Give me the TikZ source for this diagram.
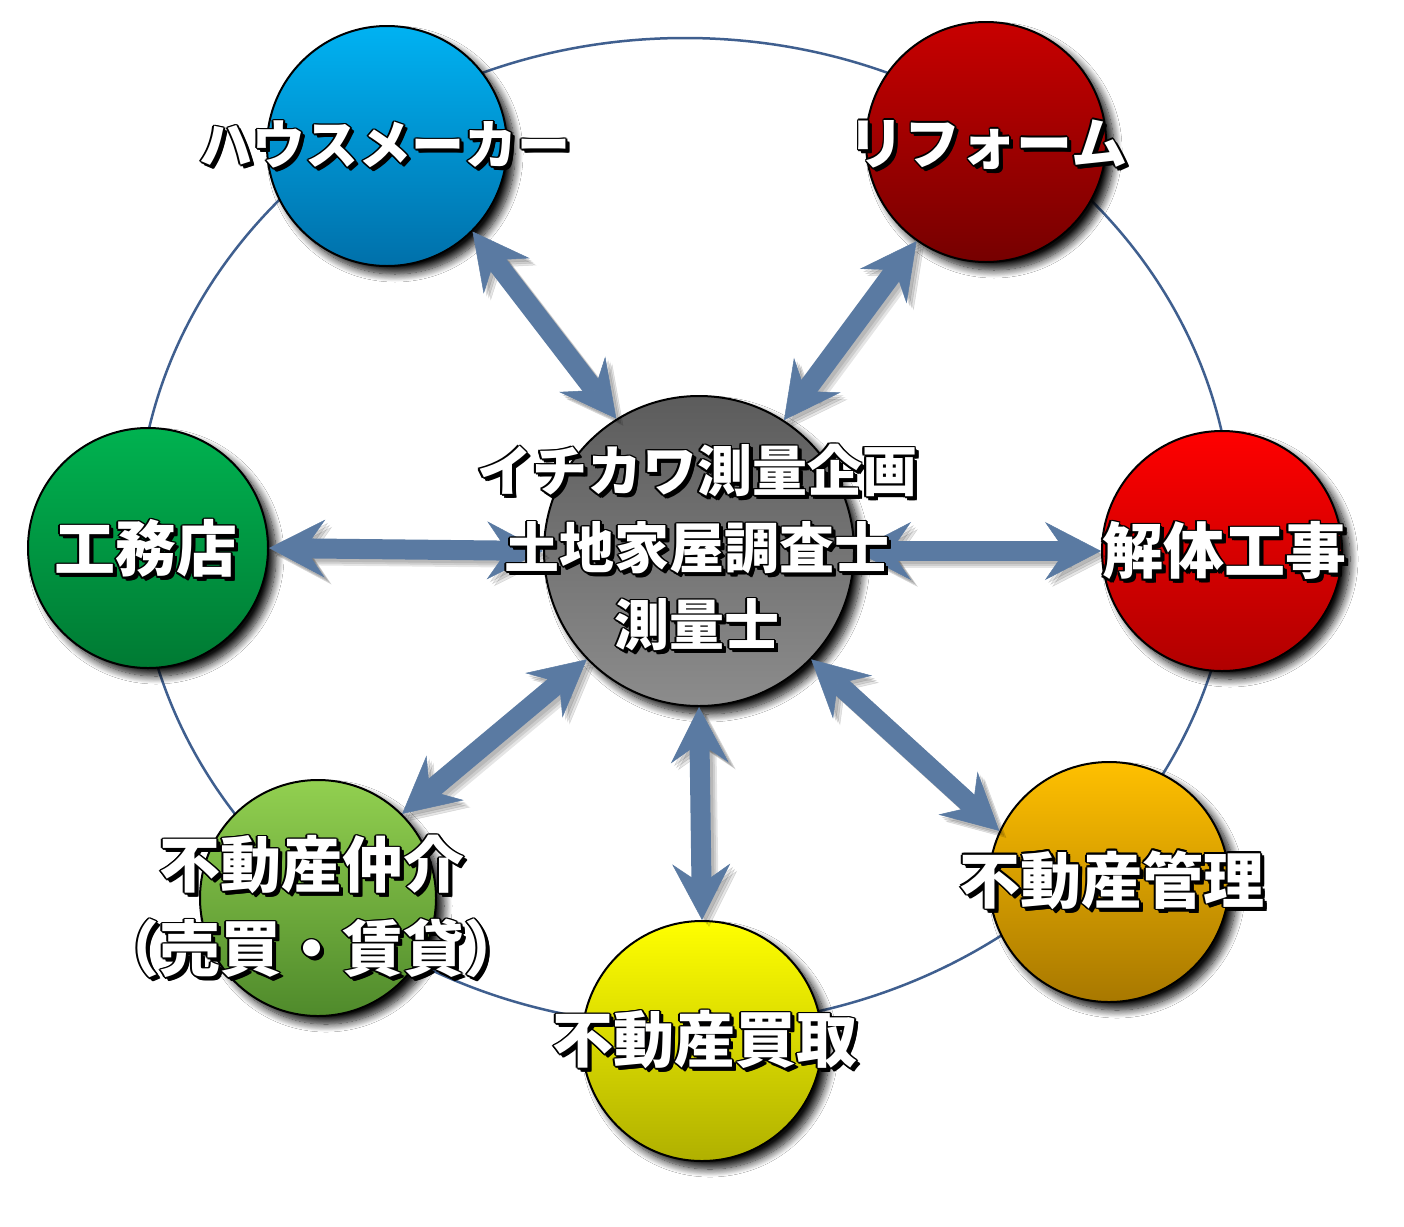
\documentclass[tikz,border=0pt]{standalone}
\usepackage{fontspec}
\newfontfamily\jp{Noto Sans CJK JP}
\usetikzlibrary{arrows.meta,shadows.blur,calc}
\definecolor{ringc}{RGB}{63,95,143}
\definecolor{arrowc}{RGB}{90,122,162}
\definecolor{blueT}{RGB}{0,178,242}\definecolor{blueB}{RGB}{0,112,170}
\definecolor{drT}{RGB}{200,0,0}\definecolor{drB}{RGB}{118,0,0}
\definecolor{grT}{RGB}{0,178,80}\definecolor{grB}{RGB}{0,122,51}
\definecolor{rdT}{RGB}{255,0,0}\definecolor{rdB}{RGB}{176,0,0}
\definecolor{gyT}{RGB}{92,92,92}\definecolor{gyB}{RGB}{140,140,140}
\definecolor{lgT}{RGB}{146,208,80}\definecolor{lgB}{RGB}{79,138,43}
\definecolor{yeT}{RGB}{255,255,0}\definecolor{yeB}{RGB}{176,176,0}
\definecolor{orT}{RGB}{255,192,0}\definecolor{orB}{RGB}{168,120,0}
\newcommand\oc[3]{\rlap{\kern#1\raisebox{#2}{#3}}}
\newcommand\olt[1]{\leavevmode{\color{black}%
\oc{4pt}{-4pt}{#1}\oc{3pt}{-3pt}{#1}\oc{2pt}{-2pt}{#1}\oc{4pt}{-2.5pt}{#1}\oc{2.5pt}{-4pt}{#1}%
\oc{-1.6pt}{0pt}{#1}\oc{1.6pt}{0pt}{#1}\oc{0pt}{1.6pt}{#1}\oc{0pt}{-1.6pt}{#1}%
\oc{-1.1pt}{1.1pt}{#1}\oc{1.1pt}{1.1pt}{#1}\oc{-1.1pt}{-1.1pt}{#1}\oc{1.1pt}{-1.1pt}{#1}}%
{\color{white}#1}}
\tikzset{
  ball/.style={circle, draw=black, line width=2pt, minimum size=240pt, inner sep=0pt,
    blur shadow={shadow xshift=8pt, shadow yshift=-8pt, shadow blur radius=8pt, shadow blur steps=12, shadow opacity=95}},
  lbl/.style={inner sep=0pt, align=center, font=\jp\bfseries\fontsize{#1}{#1}\selectfont},
  tipS/.tip={Stealth[length=56pt, width=58pt, inset=20pt, line width=0.5pt]},
  arr/.style={line width=20pt, draw=arrowc, tipS-tipS},
  arrsh/.style={line width=20pt, draw=black, opacity=0.10, tipS-tipS},
}
\begin{document}
\begin{tikzpicture}[x=1pt,y=-1pt]
\useasboundingbox (0,0) rectangle (1404,1226);
\fill[white] (0,0) rectangle (1404,1226);
% ring
\draw[ringc, line width=2.5pt] (685,532) ellipse [x radius=548pt, y radius=494pt];
% circles
\node[ball, top color=blueT, bottom color=blueB] (hm) at (387,146) {};
\node[ball, top color=drT, bottom color=drB] (rf) at (986,142) {};
\node[ball, top color=grT, bottom color=grB] (km) at (148,548) {};
\node[ball, top color=rdT, bottom color=rdB] (kt) at (1222,551) {};
\node[ball, top color=lgT, bottom color=lgB, minimum size=236pt] (ch) at (318,898) {};
\node[ball, top color=yeT, bottom color=yeB] (kd) at (702,1041) {};
\node[ball, top color=orT, bottom color=orB] (kr) at (1109,882) {};
\node[ball, top color=gyT, bottom color=gyB, minimum size=310pt] (ctr) at (699,551) {};
% arrow shadows
\foreach \s in {3,5,7}{
  \begin{scope}[transform canvas={shift={(\s pt,-\s pt)}}]
  \draw[arrsh] (hm.-45) -- (ctr.122);
  \draw[arrsh] (rf.-125) -- (ctr.57);
  \draw[arrsh] (ctr.0) -- (kt.180);
  \draw[arrsh] (km.0) -- (ctr.180);
  \draw[arrsh] (ch.45) -- (ctr.-136);
  \draw[arrsh] (ctr.-90) -- (kd.90);
  \draw[arrsh] (ctr.-44) -- (kr.155);
  \end{scope}
}
% arrows
\draw[arr] (hm.-45) -- (ctr.122);
\draw[arr] (rf.-125) -- (ctr.57);
\draw[arr] (ctr.0) -- (kt.180);
\draw[arr] (km.0) -- (ctr.180);
\draw[arr] (ch.45) -- (ctr.-136);
\draw[arr] (ctr.-90) -- (kd.90);
\draw[arr] (ctr.-44) -- (kr.155);
% labels
\node[lbl=53] (thm) at (385,146) {\olt{ハウスメーカー}};
\node[lbl=56] (trf) at (988,146) {\olt{リフォーム}};
\node[lbl=61] (tkm) at (146,550) {\olt{工務店}};
\node[lbl=61] (tkt) at (1224,552) {\olt{解体工事}};
\node[lbl=61] (tkr) at (1112,881) {\olt{不動産管理}};
\node[lbl=61] (tkd) at (705,1041) {\olt{不動産買取}};
\node[lbl=61, font=\jp\bfseries\fontsize{61}{84}\selectfont] (tch) at (312,908) {\olt{不動産仲介}\\\olt{（売買・賃貸）}};
\node[lbl=55, font=\jp\bfseries\fontsize{55}{77}\selectfont] (tctr) at (697,549) {\olt{イチカワ測量企画}\\\olt{土地家屋調査士}\\\olt{測量士}};
\end{tikzpicture}
\end{document}
